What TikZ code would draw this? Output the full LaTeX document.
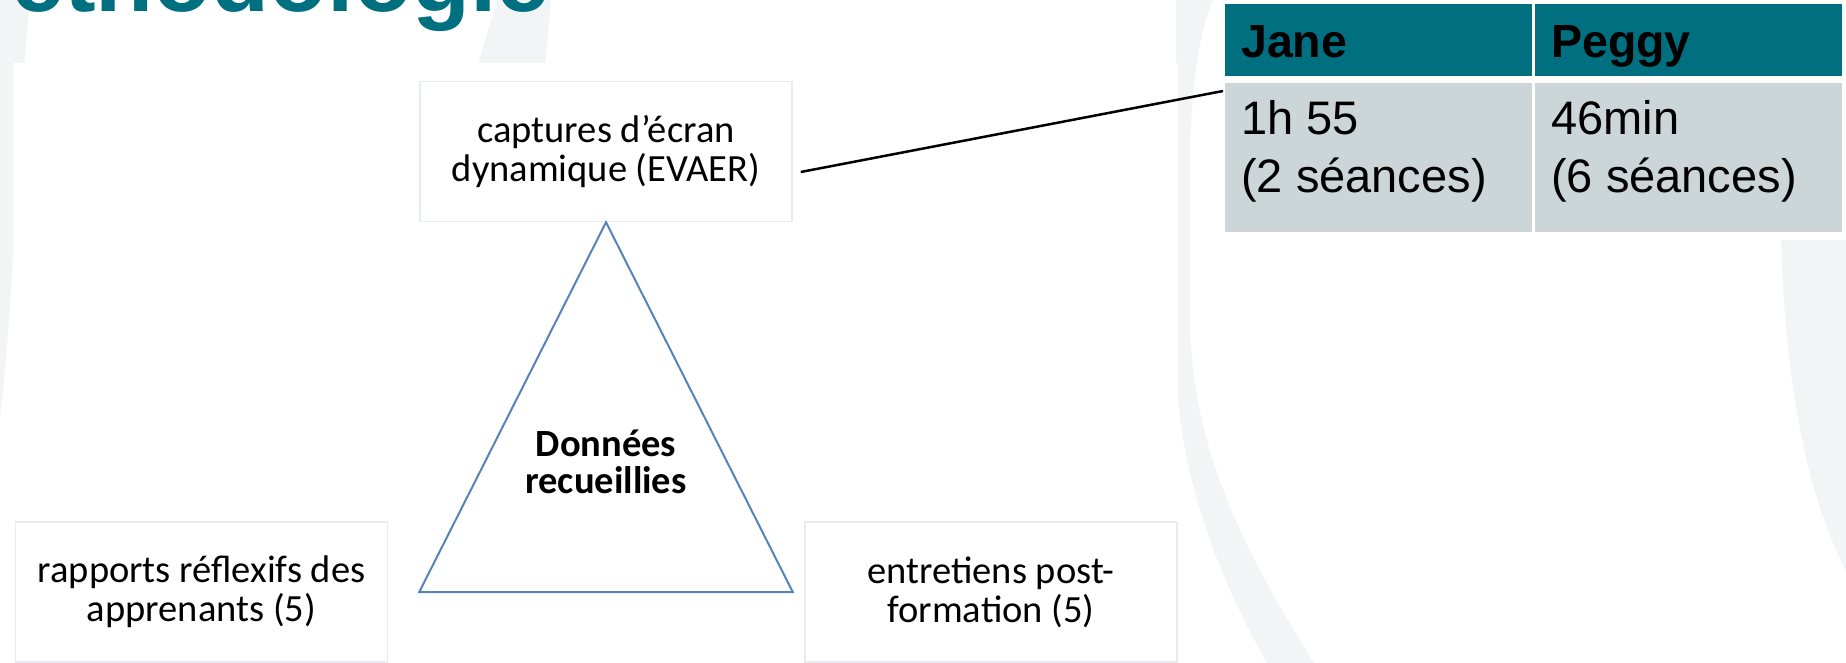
\documentclass[tikz,border=0pt]{standalone}
\usepackage{fontspec}
\setmainfont{Carlito}
\newfontfamily\arialfont{Liberation Sans}
\usepackage{tikz}
\definecolor{titleteal}{RGB}{0,111,128}
\definecolor{cellgray}{RGB}{204,213,216}
\definecolor{triblue}{RGB}{86,132,186}
\definecolor{boxline}{RGB}{232,236,240}
\definecolor{arcgray}{RGB}{242,245,246}
\newcommand{\cellw}{307}

\begin{document}
\begin{tikzpicture}[x=1pt, y=1pt,
    srcbox/.style={draw=boxline, line width=1.5pt, fill=white, minimum width=372pt, minimum height=140pt, inner sep=0pt, align=center, font=\fontsize{38.5}{39}\selectfont},
    headcell/.style={fill=titleteal, anchor=north west, inner sep=0pt, minimum width=\cellw pt, minimum height=72pt},
    bodycell/.style={fill=cellgray, anchor=north west, inner sep=0pt, minimum width=\cellw pt, minimum height=149pt},
    headtext/.style={anchor=base west, inner sep=0pt, font=\arialfont\bfseries\fontsize{46.5}{56}\selectfont},
    bodytext/.style={anchor=base west, inner sep=0pt, align=left, font=\arialfont\fontsize{47}{58}\selectfont},
    tri/.style={draw=triblue, line width=2pt, fill=white, line join=miter},
    link/.style={draw=black, line width=2.5pt}]
    \useasboundingbox (0,0) rectangle (1846,-663);
    \clip (0,0) rectangle (1846,-663);

    % Background arcs
    \fill[arcgray] (0,0) -- (30,0) .. controls (18,-120) and (14,-300) .. (0,-420) -- cycle;
    \fill[arcgray] (497,0) -- (551,0) -- (543,-92) -- (470,-92) -- cycle;
    \fill[arcgray] (1176,0) -- (1176,-370) .. controls (1180,-480) and (1220,-580) .. (1267,-663) -- (1314,-663) .. controls (1250,-560) and (1195,-460) .. (1190,-330) -- (1190,-150) .. controls (1192,-80) and (1200,-30) .. (1213,0) -- cycle;
    \fill[arcgray] (1781,-240) .. controls (1786,-400) and (1810,-500) .. (1846,-571) -- (1846,-240) -- cycle;
    \fill[white] (13,-63) rectangle (1178,-663);

    % Title
    \node[anchor=base west, inner sep=0pt, text=titleteal, font=\arialfont\bfseries\fontsize{95}{95}\selectfont] (title) at (11,-11.5) {ethodologie};

    % Sources
    \node[srcbox] (cap) at (606,-151.5) {captures d’écran\\dynamique (EVAER)};
    \node[srcbox] (rap) at (201.5,-592) {rapports réflexifs des\\apprenants (5)};
    \node[srcbox] (ent) at (991,-592) {entretiens post-\\formation (5)};

    % Triangle
    \draw[tri] (cap.south) -- (cap.south east |- ent.west) -- (cap.south west |- rap.east) -- cycle;
    \node[align=center, inner sep=0pt, font=\bfseries\fontsize{38.5}{37}\selectfont] (data) at (606,-462) {Données\\recueillies};

    % Draw table
    \foreach \col/\cx in {0/1225, 1/1535} {
        \node[headcell] (head\col) at (\cx,-4) {};
        \node[bodycell] (body\col) at (\cx,-83) {};
    }

    % Cells
    \node[headtext] (jane) at (1241,-58) {Jane};
    \node[headtext] (peggy) at (1551,-58) {Peggy};
    \node[bodytext] (janetime) at (1241,-193) {1h 55\\(2 séances)};
    \node[bodytext] (peggytime) at (1551,-193) {46min\\(6 séances)};

    \draw[link] ([shift={(8,-20.5)}]cap.east) -- ([shift={(-2,-8)}]body0.north west);
\end{tikzpicture}
\end{document}
